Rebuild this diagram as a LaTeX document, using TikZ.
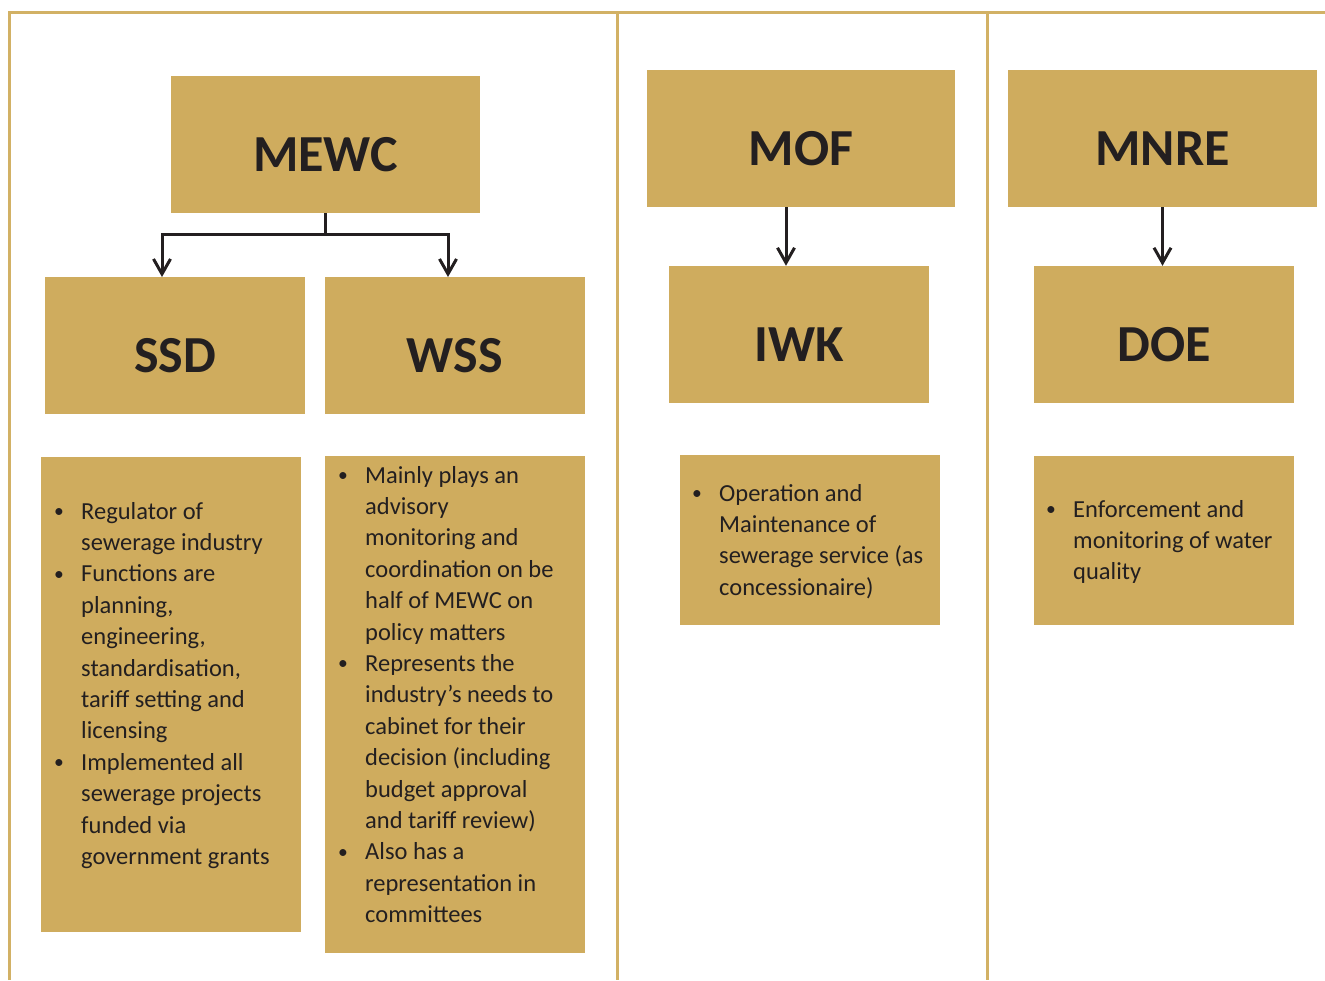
\documentclass[tikz,border=0pt]{standalone}
\usepackage{fontspec}
\setmainfont{Carlito}
\usetikzlibrary{arrows.meta}
\definecolor{gold}{HTML}{CFAC5E}
\definecolor{rule}{HTML}{D2B165}
\definecolor{ink}{HTML}{231F20}
\newcommand{\bul}{\raisebox{0.15ex}{\scalebox{0.8}{\textbullet}}}
\tikzset{
  headbox/.style={fill=gold,inner sep=0pt,minimum height=137,
    font=\fontsize{52}{60}\bfseries\selectfont,text=ink,
    text height=54pt,text depth=0pt},
  descbox/.style={fill=gold,inner sep=0pt},
  desc/.style={anchor=north west,inner sep=0pt,text=ink,
    font=\fontsize{24.5}{31.4}\selectfont},
  frame/.style={draw=rule,line width=3pt},
  link/.style={draw=ink,line width=3pt},
  arr/.style={link,-{Straight Barb[length=15pt,width=17pt,line width=3pt]}}
}

\begin{document}
\begin{tikzpicture}[x=1pt,y=-1pt]
\useasboundingbox (0,0) rectangle (1325,980);

% Frame and column dividers
\draw[frame] (9,980) -- (9,12.5) -- (1325,12.5);
\draw[frame] (617,12.5) -- (617,980);
\draw[frame] (987,12.5) -- (987,980);

% Ministries and agencies
\node[headbox,minimum width=309] (mewc) at (325.5,144.5) {MEWC};
\node[headbox,minimum width=260] (ssd)  at (175,345.5)   {SSD};
\node[headbox,minimum width=260] (wss)  at (455,345.5)   {WSS};
\node[headbox,minimum width=308] (mof)  at (801,138.5)   {MOF};
\node[headbox,minimum width=260] (iwk)  at (799,334.5)   {IWK};
\node[headbox,minimum width=309] (mnre) at (1162.5,138.5) {MNRE};
\node[headbox,minimum width=260] (doe)  at (1164,334.5)  {DOE};

% Description panels
\node[descbox,minimum width=260,minimum height=475] (ssdbox) at (171,694.5) {};
\node[descbox,minimum width=260,minimum height=497] (wssbox) at (455,704.5) {};
\node[descbox,minimum width=260,minimum height=170] (iwkbox) at (810,540)   {};
\node[descbox,minimum width=260,minimum height=169] (doebox) at (1164,540.5) {};

\node[desc] (ssdtext) at (54,497) {\begin{tabular}{@{}p{27pt}@{}l@{}}
\bul & Regulator of\\
 & sewerage industry\\
\bul & Functions are\\
 & planning,\\
 & engineering,\\
 & standardisation,\\
 & tariff setting and\\
 & licensing\\
\bul & Implemented all\\
 & sewerage projects\\
 & funded via\\
 & government grants
\end{tabular}};

\node[desc] (wsstext) at (338,461) {\begin{tabular}{@{}p{27pt}@{}l@{}}
\bul & Mainly plays an\\
 & advisory\\
 & monitoring and\\
 & coordination on be\\
 & half of MEWC on\\
 & policy matters\\
\bul & Represents the\\
 & industry’s needs to\\
 & cabinet for their\\
 & decision (including\\
 & budget approval\\
 & and tariff review)\\
\bul & Also has a\\
 & representation in\\
 & committees
\end{tabular}};

\node[desc] (iwktext) at (692,479) {\begin{tabular}{@{}p{27pt}@{}l@{}}
\bul & Operation and\\
 & Maintenance of\\
 & sewerage service (as\\
 & concessionaire)
\end{tabular}};

\node[desc] (doetext) at (1046,495) {\begin{tabular}{@{}p{27pt}@{}l@{}}
\bul & Enforcement and\\
 & monitoring of water\\
 & quality
\end{tabular}};

% Reporting lines
\coordinate (ssdin) at (162,277);
\coordinate (wssin) at (448,277);
\draw[link] (mewc.south) -- ++(0,21) coordinate (split);
\draw[arr] (split) -| (ssdin);
\draw[arr] (split) -| (wssin);
\draw[arr] ([xshift=-15pt]mof.south) -- ([xshift=-15pt]mof.south |- iwk.north);
\draw[arr] (mnre.south) -- (mnre.south |- doe.north);

\end{tikzpicture}
\end{document}
